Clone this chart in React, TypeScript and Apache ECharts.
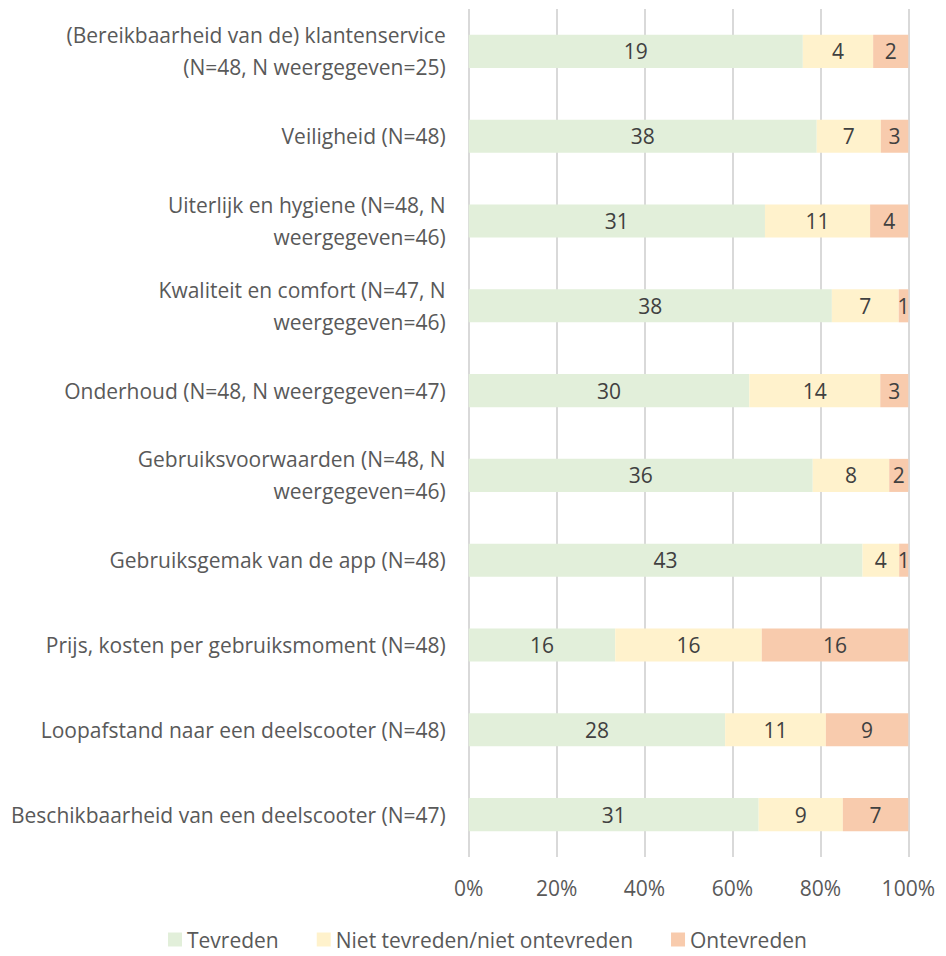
import React, { useEffect, useRef } from "react";
import * as echarts from "echarts";

const categories = [
  "(Bereikbaarheid van de) klantenservice\n(N=48, N weergegeven=25)",
  "Veiligheid (N=48)",
  "Uiterlijk en hygiene (N=48, N\nweergegeven=46)",
  "Kwaliteit en comfort (N=47, N\nweergegeven=46)",
  "Onderhoud (N=48, N weergegeven=47)",
  "Gebruiksvoorwaarden (N=48, N\nweergegeven=46)",
  "Gebruiksgemak van de app (N=48)",
  "Prijs, kosten per gebruiksmoment (N=48)",
  "Loopafstand naar een deelscooter (N=48)",
  "Beschikbaarheid van een deelscooter (N=47)",
];
const tevreden = [19, 38, 31, 38, 30, 36, 43, 16, 28, 31];
const neutraal = [4, 7, 11, 7, 14, 8, 4, 16, 11, 9];
const ontevreden = [2, 3, 4, 1, 3, 2, 1, 16, 9, 7];
const seriesNames = ["Tevreden", "Niet tevreden/niet ontevreden", "Ontevreden"];
const colors = ["#E2EFDA", "#FFF2CC", "#F8CBAD"];
const tickLabels = ["0%", "20%", "40%", "60%", "80%", "100%"];

const FONT = "'Open Sans', 'Noto Sans', sans-serif";

export default function App() {
  const ref = useRef<HTMLDivElement>(null);
  useEffect(() => {
    if (!ref.current) return;
    const chart = echarts.init(ref.current, undefined, { renderer: "svg" });
    const counts = [tevreden, neutraal, ontevreden];
    const totals = tevreden.map((v, i) => v + neutraal[i] + ontevreden[i]);
    chart.setOption({
      animation: false,
      textStyle: { fontFamily: FONT },
      grid: { left: 460, right: 20, top: 1, bottom: 99, containLabel: false },
      legend: {
        top: 921,
        left: 160,
        padding: 0,
        itemWidth: 14,
        itemHeight: 14,
        itemGap: 38,
        icon: "rect",
        textStyle: { color: "#595959", fontSize: 21, fontFamily: FONT },
        data: seriesNames,
      },
      xAxis: {
        type: "value",
        min: 0,
        max: 100,
        interval: 20,
        axisLine: { show: false },
        axisTick: { show: false },
        splitLine: { show: true, lineStyle: { color: "#D9D9D9", width: 2 } },
        axisLabel: {
          color: "#595959",
          fontSize: 21,
          margin: 20,
          formatter: (v: number) => tickLabels[Math.round(v / 20)],
        },
      },
      yAxis: {
        type: "category",
        inverse: true,
        data: categories,
        axisLine: { show: false },
        axisTick: { show: false },
        axisLabel: {
          color: "#595959",
          fontSize: 21,
          lineHeight: 32,
          margin: 23,
          align: "right",
        },
      },
      series: seriesNames.map((name, s) => ({
        name,
        type: "bar",
        stack: "total",
        barWidth: "39%",
        itemStyle: { color: colors[s] },
        label: {
          show: true,
          position: "inside",
          color: "#404040",
          fontSize: 21,
          fontFamily: FONT,
          formatter: (p: any) => String(counts[s][p.dataIndex]),
        },
        emphasis: { disabled: true },
        data: counts[s].map((v, i) => (v / totals[i]) * 100),
      })),
    });
    return () => chart.dispose();
  }, []);
  return <div ref={ref} style={{ width: 930, height: 948 }} />;
}
